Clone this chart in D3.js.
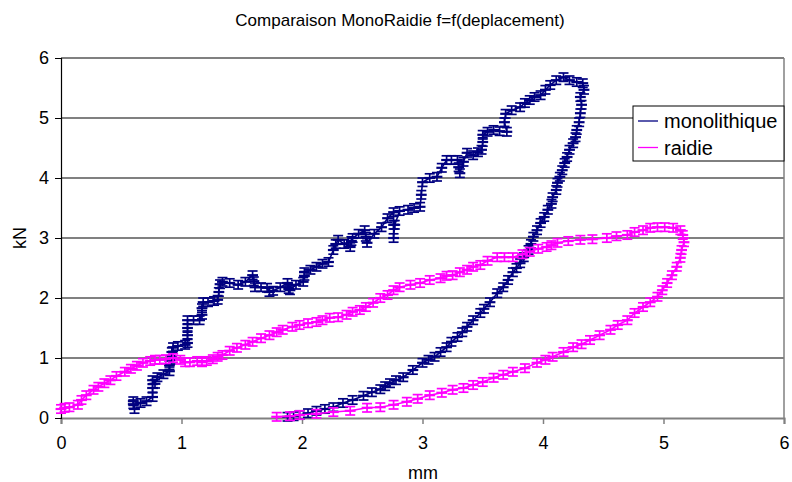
<!DOCTYPE html>
<html><head><meta charset="utf-8">
<script src="https://cdn.jsdelivr.net/npm/d3@7"></script>
<style>body{margin:0;background:#fff}svg{display:block}text{font-family:"Liberation Sans",Arial,sans-serif}</style>
</head><body>
<svg id="c" width="792" height="482"></svg>
<script>
const title = "Comparaison MonoRaidie f=f(deplacement)";
const xLabel = "mm";
const yLabel = "kN";
const xTicks = [0,1,2,3,4,5,6];
const yTicks = [0,1,2,3,4,5,6];
const seriesNames = ["monolithique","raidie"];
const errY = 0.07;
const errX = 0.045;

const monoX = [0.60,0.61,0.60,0.66,0.71,0.76,0.76,0.76,0.78,0.80,0.85,0.90,0.90,0.91,0.92,0.93,0.97,1.03,1.05,1.05,1.05,1.05,1.10,1.15,1.17,1.17,1.18,1.22,1.27,1.30,1.31,1.32,1.34,1.40,1.47,1.53,1.59,1.60,1.61,1.66,1.71,1.73,1.76,1.82,1.88,1.89,1.90,1.95,2.01,2.02,2.02,2.07,2.12,2.17,2.22,2.26,2.28,2.30,2.35,2.40,2.41,2.42,2.47,2.52,2.53,2.54,2.60,2.66,2.71,2.76,2.76,2.76,2.77,2.81,2.88,2.93,2.98,2.99,3.00,3.06,3.12,3.16,3.20,3.24,3.29,3.30,3.31,3.34,3.37,3.42,3.46,3.49,3.50,3.50,3.54,3.59,3.64,3.70,3.68,3.69,3.74,3.81,3.85,3.89,3.93,3.98,4.02,4.06,4.11,4.17,4.22,4.28,4.33,
 4.34,4.31,4.32,4.31,4.30,4.28,4.27,4.25,4.22,4.20,4.18,4.16,4.14,4.12,4.11,4.08,4.07,4.04,4.01,3.98,3.95,3.92,3.90,3.88,3.84,3.81,3.78,3.75,3.71,3.67,3.62,3.56,3.51,3.48,3.42,3.37,3.33,3.29,3.24,3.20,3.15,3.10,3.05,3.00,2.92,2.84,2.78,2.73,2.69,2.65,2.58,2.51,2.42,2.34,2.26,2.19,2.12,2.05,1.98,1.93,1.88];
const monoY = [0.23,0.15,0.28,0.25,0.28,0.35,0.50,0.63,0.57,0.68,0.73,0.78,0.88,0.97,1.10,1.18,1.20,1.22,1.25,1.38,1.50,1.63,1.63,1.63,1.72,1.83,1.93,1.93,1.95,1.97,2.10,2.23,2.27,2.25,2.22,2.27,2.38,2.28,2.18,2.18,2.17,2.10,2.12,2.18,2.25,2.15,2.13,2.22,2.27,2.37,2.43,2.47,2.52,2.57,2.60,2.80,2.90,2.97,2.90,2.85,2.95,3.00,3.07,3.13,3.02,2.92,3.07,3.18,3.33,3.43,3.22,3.00,3.22,3.45,3.47,3.50,3.52,3.72,3.93,4.00,4.02,4.17,4.30,4.30,4.30,4.18,4.08,4.27,4.42,4.38,4.43,4.47,4.60,4.72,4.77,4.80,4.78,4.77,4.93,5.07,5.13,5.18,5.25,5.30,5.35,5.38,5.47,5.55,5.63,5.68,5.63,5.60,5.58,
 5.47,5.35,5.22,5.08,4.93,4.80,4.68,4.58,4.47,4.35,4.25,4.13,4.02,3.92,3.80,3.68,3.57,3.47,3.35,3.25,3.13,3.02,2.90,2.80,2.68,2.58,2.50,2.43,2.30,2.18,2.08,1.93,1.82,1.75,1.63,1.52,1.43,1.35,1.27,1.18,1.10,1.02,0.97,0.92,0.80,0.68,0.63,0.58,0.53,0.48,0.43,0.37,0.30,0.25,0.18,0.15,0.12,0.08,0.05,0.03,0.02];

const raidX = [0.00,0.03,0.07,0.14,0.17,0.21,0.27,0.31,0.36,0.41,0.46,0.53,0.58,0.63,0.68,0.74,0.78,0.82,0.87,0.93,0.99,1.03,1.07,1.13,1.17,1.21,1.26,1.30,1.34,1.40,1.46,1.53,1.59,1.66,1.73,1.79,1.84,1.92,1.98,2.05,2.12,2.17,2.23,2.30,2.37,2.42,2.48,2.53,2.59,2.65,2.71,2.76,2.81,2.90,2.98,3.06,3.15,3.20,3.25,3.31,3.37,3.42,3.48,3.54,3.62,3.68,3.75,3.83,3.89,3.96,4.03,4.07,4.12,4.21,4.31,4.41,4.53,4.61,4.70,4.76,4.83,4.89,4.95,5.01,5.08,5.14,5.16,
 5.17,5.15,5.14,5.11,5.07,5.03,4.99,4.95,4.89,4.83,4.76,4.70,4.62,4.56,4.47,4.39,4.32,4.25,4.17,4.08,4.02,3.95,3.85,3.75,3.67,3.59,3.50,3.42,3.34,3.25,3.16,3.06,2.96,2.87,2.76,2.65,2.54,2.40,2.26,2.12,1.98,1.90,1.79];
const raidY = [0.15,0.17,0.18,0.22,0.30,0.38,0.47,0.52,0.58,0.63,0.70,0.77,0.82,0.87,0.92,0.95,0.97,0.97,0.98,1.00,0.97,0.93,0.93,0.95,0.93,0.95,0.98,1.02,1.05,1.12,1.17,1.22,1.27,1.33,1.38,1.43,1.47,1.52,1.55,1.58,1.60,1.63,1.67,1.68,1.72,1.77,1.80,1.85,1.92,2.00,2.05,2.13,2.18,2.22,2.25,2.30,2.33,2.37,2.38,2.43,2.47,2.52,2.55,2.62,2.68,2.68,2.68,2.73,2.77,2.82,2.85,2.88,2.92,2.95,2.97,2.98,3.00,3.03,3.05,3.10,3.13,3.17,3.18,3.18,3.17,3.13,3.05,
 2.93,2.80,2.67,2.52,2.38,2.25,2.13,2.02,1.93,1.85,1.75,1.63,1.55,1.47,1.38,1.30,1.23,1.18,1.10,1.02,0.97,0.92,0.83,0.77,0.72,0.67,0.60,0.55,0.50,0.47,0.42,0.38,0.32,0.27,0.22,0.18,0.17,0.12,0.10,0.07,0.05,0.03,0.02];

const colors = ["#000080","#FF00FF"];
const svg = d3.select("#c");
const m = {l:61, r:784, t:58, b:418};
const x = d3.scaleLinear().domain([0,6]).range([m.l,m.r]);
const y = d3.scaleLinear().domain([0,6]).range([m.b,m.t]);

// gridlines
svg.append("g").selectAll("line").data(yTicks.filter(d=>d>0)).join("line")
  .attr("x1",m.l).attr("x2",m.r).attr("y1",d=>y(d)).attr("y2",d=>y(d))
  .attr("stroke","#808080").attr("stroke-width",2);
// right border of plot area
svg.append("line").attr("x1",m.r).attr("x2",m.r).attr("y1",m.t).attr("y2",m.b)
  .attr("stroke","#808080").attr("stroke-width",1.5);

// axes
const xa = svg.append("g").attr("transform",`translate(0,${m.b})`)
  .call(d3.axisBottom(x).tickValues(xTicks).tickFormat(d3.format("d")).tickSize(6).tickPadding(12));
const ya = svg.append("g").attr("transform",`translate(${m.l},0)`)
  .call(d3.axisLeft(y).tickValues(yTicks).tickFormat(d3.format("d")).tickSize(6).tickPadding(6));
[xa,ya].forEach(a=>{
  a.select(".domain").attr("stroke","#000").attr("stroke-width",1.2);
  a.selectAll(".tick line").attr("stroke","#000");
  a.selectAll("text").attr("font-size",18).attr("fill","#000").attr("font-family","Liberation Sans, Arial, sans-serif");
});
xa.select(".domain").attr("stroke","#808080").attr("stroke-width",2);
xa.selectAll(".tick line").attr("stroke","#808080").attr("stroke-width",1.5);

// series
const sets = [[monoX,monoY],[raidX,raidY]];
sets.forEach(([xs,ys],i)=>{
  const pts = xs.map((v,k)=>[v,ys[k]]);
  const g = svg.append("g");
  g.append("path").datum(pts)
    .attr("d",d3.line().x(d=>x(d[0])).y(d=>y(d[1])))
    .attr("fill","none").attr("stroke",colors[i]).attr("stroke-width",1.6);
  const eb = g.selectAll("g.eb").data(pts).join("g").attr("stroke",colors[i]).attr("stroke-width",1.7);
  eb.append("line").attr("x1",d=>x(d[0])).attr("x2",d=>x(d[0]))
    .attr("y1",d=>y(d[1]-errY)).attr("y2",d=>y(d[1]+errY));
  eb.append("line").attr("x1",d=>x(d[0]-errX)).attr("x2",d=>x(d[0]+errX))
    .attr("y1",d=>y(d[1])).attr("y2",d=>y(d[1])).attr("stroke-width",2.2);
  eb.append("line").attr("x1",d=>x(d[0])-5).attr("x2",d=>x(d[0])+5)
    .attr("y1",d=>y(d[1]-errY)).attr("y2",d=>y(d[1]-errY));
  eb.append("line").attr("x1",d=>x(d[0])-5).attr("x2",d=>x(d[0])+5)
    .attr("y1",d=>y(d[1]+errY)).attr("y2",d=>y(d[1]+errY));
});

// title and axis labels
svg.append("text").attr("x",400).attr("y",26).attr("text-anchor","middle")
  .attr("font-size",17).text(title);
svg.append("text").attr("x",423).attr("y",479).attr("text-anchor","middle")
  .attr("font-size",18).text(xLabel);
svg.append("text").attr("transform","translate(26,238) rotate(-90)").attr("text-anchor","middle")
  .attr("font-size",18).text(yLabel);

// legend
const lg = svg.append("g");
lg.append("rect").attr("x",633).attr("y",106).attr("width",151).attr("height",55)
  .attr("fill","#fff").attr("stroke","#000").attr("stroke-width",1);
seriesNames.forEach((n,i)=>{
  const yy = 121 + i*26.5;
  lg.append("line").attr("x1",638).attr("x2",658).attr("y1",yy).attr("y2",yy)
    .attr("stroke",colors[i]).attr("stroke-width",1.3);
  lg.append("text").attr("x",664).attr("y",yy+7).attr("font-size",20).text(n);
});
</script>
</body></html>
